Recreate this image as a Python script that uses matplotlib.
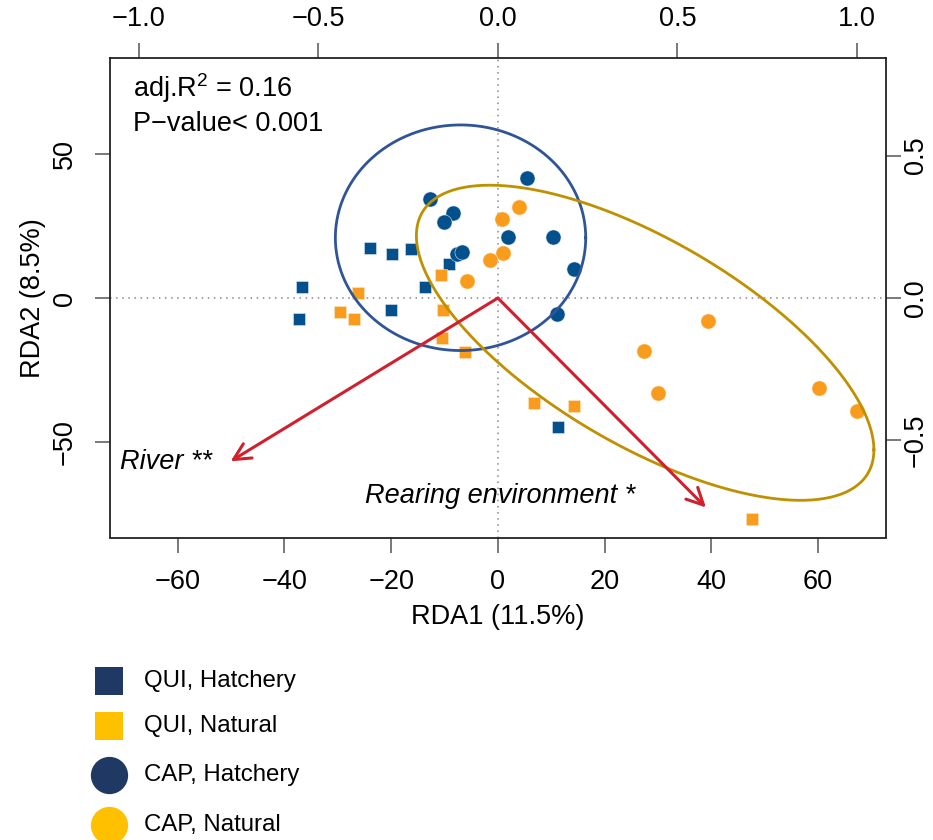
import numpy as np
import matplotlib
matplotlib.use("Agg")
import matplotlib.pyplot as plt

plt.rcParams["font.family"] = ["Liberation Sans", "DejaVu Sans"]
plt.rcParams["mathtext.fontset"] = "custom"
plt.rcParams["mathtext.rm"] = "Liberation Sans"
plt.rcParams["mathtext.it"] = "Liberation Sans:italic"
plt.rcParams["axes.unicode_minus"] = True

# ---- site scores (RDA1, RDA2) per group ----
qui_hat_x = [-36.7, -37.3, -23.9, -19.9, -16.2, -20.0, -13.6, -9.2, 11.2]
qui_hat_y = [3.7, -7.4, 17.2, 15.3, 17.0, -4.1, 3.9, 11.9, -44.7]

qui_nat_x = [-26.3, -29.5, -26.9, -10.7, -10.3, -10.4, -6.1, 6.7, 14.2, 47.7]
qui_nat_y = [1.6, -4.9, -7.2, 8.1, -4.1, -13.9, -18.6, -36.3, -37.3, -76.6]

cap_hat_x = [-12.8, -8.5, -10.1, -7.7, -6.7, 5.5, 1.9, 10.3, 14.3, 11.0]
cap_hat_y = [34.5, 29.5, 26.2, 15.4, 15.8, 41.7, 21.0, 21.0, 9.9, -5.4]

cap_nat_x = [3.9, 0.8, 1.0, -1.4, -5.8, 39.4, 27.3, 30.0, 60.2, 67.3]
cap_nat_y = [31.6, 27.4, 15.5, 13.3, 6.0, -8.0, -18.5, -32.8, -31.1, -39.0]

# ---- dispersion ellipses (centre + covariance) ----
hat_center = [-7.0, 20.9]
hat_cov = [[550.5, 0.0], [0.0, 1528.8]]
nat_center = [27.6, -15.5]
nat_cov = [[1838.6, -1591.4], [-1591.4, 2982.5]]

# ---- constraining variables (biplot arrows) ----
env_names = ["River **", "Rearing environment *"]
env_x = [-50.1, 39.0]
env_y = [-56.6, -72.6]

stats_lines = [r"adj.R$^{\mathregular{2}}$ = 0.16", "P\u2212value< 0.001"]

legend_labels = ["QUI, Hatchery", "QUI, Natural", "CAP, Hatchery", "CAP, Natural"]
legend_markers = ["s", "s", "o", "o"]

# ---- colours ----
BLUE = "#03508C"
ORANGE = "#F99B1C"
BLUE_ELL = "#2F5597"
GOLD_ELL = "#BF9000"
RED = "#D0202E"
LEG_NAVY = "#203864"
LEG_GOLD = "#FFC000"

W, H = 933, 840
fig = plt.figure(figsize=(W / 100, H / 100), dpi=100)
ax = fig.add_axes([110 / W, 1 - 537.5 / H, 776.3 / W, 479.5 / H])

FS = 19.5

ax.set_xlim(-72.7, 72.8)
ax.set_ylim(-83.0, 83.2)

ax.axhline(0, color="#888888", lw=1.1, ls=(0, (1, 3)), zorder=1)
ax.axvline(0, color="#888888", lw=1.1, ls=(0, (1, 3)), zorder=1)

ax.scatter(qui_hat_x, qui_hat_y, marker="s", s=80, color=BLUE,
           edgecolors="#DDE7F0", linewidths=0.4, zorder=3)
ax.scatter(qui_nat_x, qui_nat_y, marker="s", s=80, color=ORANGE,
           edgecolors="#FDE6C4", linewidths=0.4, zorder=3)
ax.scatter(cap_hat_x, cap_hat_y, marker="o", s=118, color=BLUE,
           edgecolors="#DDE7F0", linewidths=0.4, zorder=3)
ax.scatter(cap_nat_x, cap_nat_y, marker="o", s=118, color=ORANGE,
           edgecolors="#FDE6C4", linewidths=0.4, zorder=3)


def ellipse_path(center, cov, n=300):
    t = np.linspace(0, 2 * np.pi, n)
    circ = np.column_stack([np.cos(t), np.sin(t)])
    L = np.linalg.cholesky(np.asarray(cov, dtype=float))
    pts = circ @ L.T + np.asarray(center)
    return pts[:, 0], pts[:, 1]


ex, ey = ellipse_path(hat_center, hat_cov)
ax.plot(ex, ey, color=BLUE_ELL, lw=2.0, zorder=4)
ex, ey = ellipse_path(nat_center, nat_cov)
ax.plot(ex, ey, color=GOLD_ELL, lw=2.0, zorder=4)

for x, y in zip(env_x, env_y):
    ax.annotate("", xy=(x, y), xytext=(0, 0),
                arrowprops=dict(arrowstyle="->,head_length=0.6,head_width=0.3",
                                color=RED, lw=2.2, shrinkA=0, shrinkB=0,
                                mutation_scale=20),
                zorder=5)

ax.text(-62.3, -56.9, env_names[0], fontsize=FS, style="italic",
        ha="center", va="center", zorder=6)
ax.text(0.4, -68.7, env_names[1], fontsize=FS, style="italic",
        ha="center", va="center", zorder=6)

ax.text(0.0296, 0.9187, stats_lines[0], transform=ax.transAxes,
        fontsize=FS, ha="left", va="baseline")
ax.text(0.0296, 0.8478, stats_lines[1], transform=ax.transAxes,
        fontsize=FS, ha="left", va="baseline")

# axes styling
for sp in ax.spines.values():
    sp.set_color("#222222")
    sp.set_linewidth(1.3)

ax.set_xticks([-60, -40, -20, 0, 20, 40, 60])
ax.set_yticks([-50, 0, 50])
ax.tick_params(axis="x", direction="out", length=11, width=1.1,
               color="#555555", labelsize=FS, pad=12)
ax.tick_params(axis="y", direction="out", length=11, width=1.1,
               color="#555555", labelsize=FS, pad=12)
for lab in ax.get_yticklabels():
    lab.set_rotation(90)
    lab.set_va("center")

ax.set_xlabel("RDA1 (11.5%)", fontsize=FS, labelpad=6)
ax.set_ylabel("RDA2 (8.5%)", fontsize=FS, labelpad=4)

KX = 67.3
KY = 98.7
top = ax.secondary_xaxis("top", functions=(lambda v: v / KX, lambda v: v * KX))
top.set_xticks([-1.0, -0.5, 0.0, 0.5, 1.0])
top.set_xticklabels(["\u22121.0", "\u22120.5", "0.0", "0.5", "1.0"])
top.tick_params(direction="out", length=11, width=1.1, color="#555555",
                labelsize=FS, pad=8)
top.spines["top"].set_visible(False)

right = ax.secondary_yaxis("right", functions=(lambda v: v / KY, lambda v: v * KY))
right.set_yticks([-0.5, 0.0, 0.5])
right.set_yticklabels(["\u22120.5", "0.0", "0.5"])
right.tick_params(direction="out", length=11, width=1.1, color="#555555",
                  labelsize=FS, pad=1)
right.spines["right"].set_visible(False)
for lab in right.get_yticklabels():
    lab.set_rotation(90)
    lab.set_va("center")

# ---- legend below the plot ----
lax = fig.add_axes([0, 0, 1, 1], zorder=-1)
lax.set_xlim(0, W)
lax.set_ylim(H, 0)
lax.axis("off")
leg_colors = [LEG_NAVY, LEG_GOLD, LEG_NAVY, LEG_GOLD]
leg_rows = [681, 726, 775, 825]
for lbl, mk, col, yy in zip(legend_labels, legend_markers, leg_colors, leg_rows):
    size = 400 if mk == "s" else 720
    lax.scatter([109], [yy], marker=mk, s=size, color=col, linewidths=0)
    lax.text(144, yy, lbl, fontsize=17.3, ha="left", va="center")

fig.savefig("out.png", dpi=100)
